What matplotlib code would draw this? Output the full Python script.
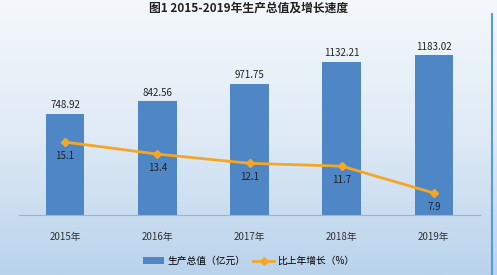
import matplotlib.pyplot as plt
import numpy as np
from matplotlib.colors import LinearSegmentedColormap

plt.rcParams['font.family'] = ['Noto Sans CJK SC', 'DejaVu Sans']

years = ['2015年', '2016年', '2017年', '2018年', '2019年']
gdp = [748.92, 842.56, 971.75, 1132.21, 1183.02]
growth = [15.1, 13.4, 12.1, 11.7, 7.9]

fig = plt.figure(figsize=(4.97, 2.75), dpi=100)

# gradient background
bg = fig.add_axes([0, 0, 1, 1], zorder=-10)
cmap = LinearSegmentedColormap.from_list('bg', ['#f4f8fc', '#dfeaf5', '#b9d3ec'])
bg.imshow(np.linspace(0, 1, 256).reshape(-1, 1), aspect='auto', cmap=cmap,
          extent=[0, 1, 0, 1])
bg.set_xlim(0, 1)
bg.set_ylim(0, 1)
bg.axis('off')
bg.axvline(0.99, color='#5b9bd5', lw=1.5, ymin=0.0, ymax=0.95)

fig.text(0.5, 0.995, '图1 2015-2019年生产总值及增长速度', ha='center', va='top',
         fontsize=8.5, fontweight='bold', color='#222222')

ax = fig.add_axes([19 / 497, 1 - 215 / 275, 461 / 497, 177 / 275])
ax.patch.set_alpha(0)
x = np.arange(len(years))
ax.bar(x, gdp, width=0.42, color='#4f87c6', label='生产总值（亿元）', zorder=2)
for xi, v in zip(x, gdp):
    ax.text(xi, v + 25, f'{v:.2f}', ha='center', va='bottom', fontsize=7, color='#222222')
ax.set_xlim(-0.5, 4.5)
ax.set_ylim(0, 1308)
ax.set_yticks([])
ax.set_xticks(x)
ax.set_xticklabels(years, fontsize=7, color='#333333')
ax.tick_params(axis='x', length=0, pad=12)
for s in ['top', 'right', 'left']:
    ax.spines[s].set_visible(False)
ax.spines['bottom'].set_color('#9ab4d0')

ax2 = ax.twinx()
ax2.plot(x, growth, color='#f5a623', lw=2, marker='D', ms=4, label='比上年增长（%）', zorder=3)
for xi, v in zip(x, growth):
    ax2.text(xi, v - 1.2, f'{v}', ha='center', va='top', fontsize=7, color='#222222')
ax2.set_ylim(4.8, 29.8)
ax2.set_yticks([])
for s in ['top', 'right', 'left', 'bottom']:
    ax2.spines[s].set_visible(False)

h1, l1 = ax.get_legend_handles_labels()
h2, l2 = ax2.get_legend_handles_labels()
fig.legend(h1 + h2, l1 + l2, loc='center', bbox_to_anchor=(0.5, 1 - 261 / 275),
           ncol=2, frameon=False, fontsize=7, handlelength=2.2, columnspacing=0.8,
           handletextpad=0.3)

fig.savefig('out.png', dpi=100)
